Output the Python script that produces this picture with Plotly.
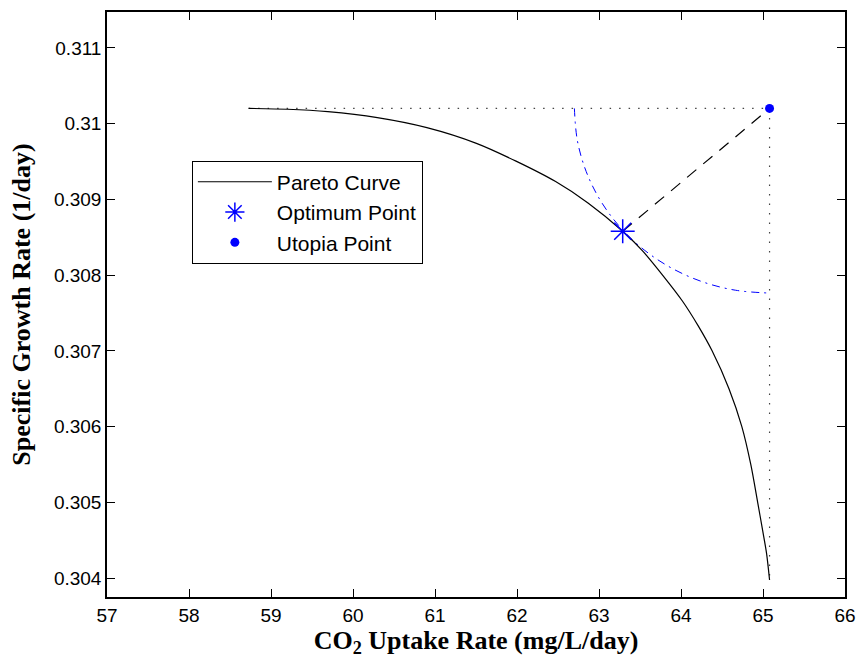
import plotly.graph_objects as go

# Pareto curve (CO2 uptake rate, specific growth rate)
pareto_x = [58.727, 59.20, 59.693, 60.297, 60.901, 61.505, 61.988, 62.471, 62.870,
            63.289, 63.534, 63.775, 64.017, 64.210, 64.379, 64.585, 64.742, 64.851,
            64.935, 64.995, 65.043, 65.080]
pareto_y = [0.310201, 0.310190, 0.310158, 0.310079, 0.309947, 0.309740, 0.309505, 0.309235,
            0.308950, 0.308579, 0.308316, 0.308000, 0.307658, 0.307329, 0.307000, 0.306500,
            0.306000, 0.305500, 0.305000, 0.304632, 0.304329, 0.303974]

optimum_x = [63.289]
optimum_y = [0.308579]

utopia_x = [65.08]
utopia_y = [0.310201]

# dash-dot arc around the utopia point
arc_x = [62.700, 62.736, 62.844, 63.019, 63.257, 63.550, 63.890, 64.266, 64.667, 65.080]
arc_y = [0.310201, 0.309778, 0.309367, 0.308982, 0.308634, 0.308333, 0.308090, 0.307910,
         0.307800, 0.307763]

x_ticks = [57, 58, 59, 60, 61, 62, 63, 64, 65, 66]
y_ticks = [0.304, 0.305, 0.306, 0.307, 0.308, 0.309, 0.310, 0.311]
y_tick_text = ["0.304", "0.305", "0.306", "0.307", "0.308", "0.309", "0.31", "0.311"]

sans = "Liberation Sans, Arial, Helvetica, sans-serif"
serif = "Liberation Serif, Times New Roman, serif"

fig = go.Figure()

# dotted guide lines
fig.add_trace(go.Scatter(x=[pareto_x[0], utopia_x[0]], y=[utopia_y[0], utopia_y[0]],
                         mode="lines", line=dict(color="#444444", width=1.2, dash="1.5px,8px"),
                         showlegend=False, hoverinfo="skip"))
fig.add_trace(go.Scatter(x=[utopia_x[0], utopia_x[0]], y=[utopia_y[0], pareto_y[-1]],
                         mode="lines", line=dict(color="#444444", width=1.2, dash="1.5px,8px"),
                         showlegend=False, hoverinfo="skip"))
# dashed line optimum -> utopia
fig.add_trace(go.Scatter(x=[optimum_x[0], utopia_x[0]], y=[optimum_y[0], utopia_y[0]],
                         mode="lines", line=dict(color="black", width=1.2, dash="12px,9px"),
                         showlegend=False, hoverinfo="skip"))
# dash-dot arc
fig.add_trace(go.Scatter(x=arc_x, y=arc_y, mode="lines", line_shape="spline",
                         line=dict(color="blue", width=1, dash="8px,5px,2px,5px"),
                         showlegend=False, hoverinfo="skip"))

fig.add_trace(go.Scatter(x=pareto_x, y=pareto_y, mode="lines", name="Pareto Curve",
                         line_shape="spline", line=dict(color="black", width=1.2, smoothing=0.8)))
fig.add_trace(go.Scatter(x=optimum_x, y=optimum_y, mode="markers", name="Optimum Point",
                         marker=dict(symbol="asterisk-open", size=20, color="blue",
                                     line=dict(color="blue", width=1.5))))
fig.add_trace(go.Scatter(x=utopia_x, y=utopia_y, mode="markers", name="Utopia Point",
                         marker=dict(symbol="circle", size=9, color="blue")))

axis_common = dict(showgrid=False, zeroline=False, showline=True, linecolor="black",
                   linewidth=1.5, mirror="ticks", ticks="inside", ticklen=8,
                   tickcolor="black", tickwidth=1,
                   tickfont=dict(family=sans, size=19, color="black"))

fig.update_xaxes(range=[57, 66], tickvals=x_ticks, ticktext=[str(v) for v in x_ticks],
                 title=dict(text="<b>CO<sub>2</sub> Uptake Rate (mg/L/day)</b>",
                            font=dict(family=serif, size=26, color="black"), standoff=0),
                 **axis_common)
fig.update_yaxes(range=[0.30375, 0.311474], tickvals=y_ticks, ticktext=y_tick_text,
                 title=dict(text="<b>Specific Growth Rate (1/day)</b>",
                            font=dict(family=serif, size=26, color="black"), standoff=16),
                 **axis_common)

fig.update_layout(
    width=866, height=658,
    margin=dict(l=107, r=14, t=10, b=61),
    paper_bgcolor="white", plot_bgcolor="white",
    legend=dict(x=0.115, y=0.746, xanchor="left", yanchor="top",
                bgcolor="white", bordercolor="black", borderwidth=1,
                font=dict(family=sans, size=21, color="black"),
                itemwidth=74, tracegroupgap=0),
    showlegend=True,
)

fig.write_html("out.html", config={"displayModeBar": False},
               post_script="document.body.style.margin='0px';")
